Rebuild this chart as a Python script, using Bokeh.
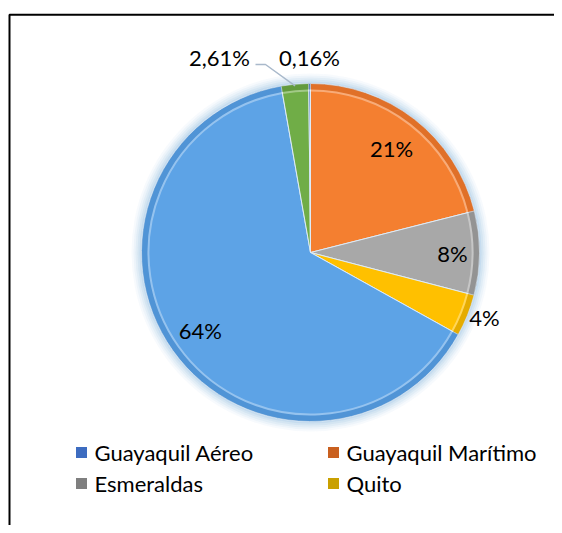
import numpy as np
from bokeh.plotting import figure
from bokeh.models import Range1d, ColumnDataSource
from bokeh.core.properties import value
from bokeh.embed import file_html
from bokeh.resources import INLINE

# ---- data (slices in clockwise order starting at 12 o'clock) ----
categories = ["Guayaquil Marítimo", "Esmeraldas", "Quito", "Guayaquil Aéreo", "Otros 1", "Otros 2"]
values = [21, 8, 4, 64, 2.61, 0.16]
labels = ["21%", "8%", "4%", "64%", "2,61%", "0,16%"]
legend_names = ["Guayaquil Aéreo", "Guayaquil Marítimo", "Esmeraldas", "Quito"]

# ---- styles ----
slice_colors = ["#F47F30", "#A8A8A8", "#FFC000", "#5DA3E6", "#70AD47", "#4472C4"]
edge_colors = ["#B9561A", "#6E6E6E", "#B58700", "#3A77B8", "#4A7A2C", "#2F5597"]
legend_colors = {"Guayaquil Aéreo": "#3D6CC0", "Guayaquil Marítimo": "#C9601F",
                 "Esmeraldas": "#7F7F7F", "Quito": "#C9A000"}
FONT = "Lato"
FS_LABEL = "22px"
FS_LEG = "22px"

W, H = 554, 525
def Y(sy):  # screen y -> data y
    return H - sy

cx, cy, r = 310, Y(252), 169

p = figure(width=W, height=H, x_range=Range1d(0, W), y_range=Range1d(0, H),
           output_backend="svg", toolbar_location=None, min_border=0)
p.axis.visible = False
p.grid.visible = False
p.outline_line_color = None
p.background_fill_color = "white"
p.border_fill_color = "white"

# frame (only top-left visible in the window)
p.line(x=[9, 9, 600], y=[-20, Y(14.3), Y(14.3)], line_color="black", line_width=2)

# glow
for dr, a in [(10, 0.08), (8, 0.10), (6, 0.14), (4, 0.18), (2, 0.25)]:
    p.circle(x=cx, y=cy, radius=r + dr, fill_color="#9DC3E6", fill_alpha=a, line_color=None)

tot = sum(values)
cum = np.concatenate([[0], np.cumsum(values)]) / tot * 2 * np.pi
a0 = cum[:-1]
a1 = cum[1:]
start = np.pi / 2 - a0
end = np.pi / 2 - a1

src = ColumnDataSource(dict(start=start, end=end, color=slice_colors, edge=edge_colors))
p.wedge(x=cx, y=cy, radius=r, start_angle="start", end_angle="end", direction="clock",
        source=src, fill_color="color", line_color="#DDEBF7", line_width=1)
# bevel on rim
p.annular_wedge(x=cx, y=cy, inner_radius=r - 6, outer_radius=r, start_angle="start",
                end_angle="end", direction="clock", source=src, fill_color="edge",
                fill_alpha=0.35, line_color=None)
p.arc(x=cx, y=cy, radius=r - 7, start_angle="start", end_angle="end", direction="clock",
      source=src, line_color="white", line_alpha=0.35, line_width=2)

# data labels
mid = (a0 + a1) / 2
radial = [0.78, 0.84, None, 0.80, None, None]
fixed = {2: (484, Y(317)), 4: (219, Y(57)), 5: (309, Y(57))}
lx, ly = [], []
for i, m in enumerate(mid):
    if radial[i] is None:
        x, y = fixed[i]
    else:
        x = cx + radial[i] * r * np.sin(m)
        y = cy + radial[i] * r * np.cos(m)
    lx.append(x)
    ly.append(y)
p.text(x=lx, y=ly, text=labels, text_align="center", text_baseline="middle",
       text_font=value(FONT), text_font_size=FS_LABEL, text_color="black")

# leader line for 2,61%
gx = cx + r * 0.99 * np.sin(mid[4])
gy = cy + r * 0.99 * np.cos(mid[4])
p.line(x=[255, 265, gx], y=[Y(64), Y(64), gy], line_color="#A9B9CB", line_width=1.5)

# legend
col_x = [81, 333]
row_y = [Y(452), Y(483)]
sq_x, sq_y, tx, ty, cols = [], [], [], [], []
for k, name in enumerate(legend_names):
    c, rrow = k % 2, k // 2
    sq_x.append(col_x[c]); sq_y.append(row_y[rrow])
    tx.append(col_x[c] + 13); ty.append(row_y[rrow])
    cols.append(legend_colors[name])
p.rect(x=sq_x, y=sq_y, width=11, height=11, fill_color=cols, line_color=None)
p.text(x=tx, y=ty, text=legend_names, text_align="left", text_baseline="middle",
       text_font=value(FONT), text_font_size=FS_LEG, text_color="black")

open("out.html", "w").write(file_html(p, INLINE))
